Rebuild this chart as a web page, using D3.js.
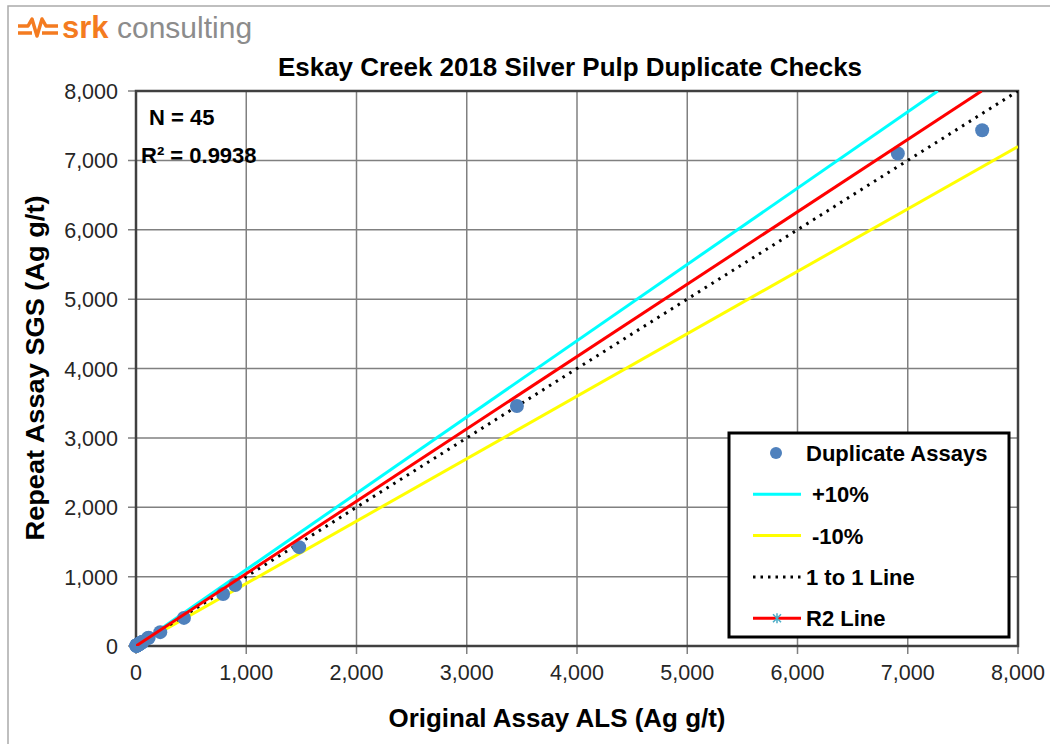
<!DOCTYPE html>
<html>
<head>
<meta charset="utf-8">
<script src="https://cdn.jsdelivr.net/npm/d3@7"></script>
<style>
  body { margin: 0; background: #fff; }
  text { font-family: Arial, "Liberation Sans", sans-serif; }
</style>
</head>
<body>
<script>
// duplicate assay pairs [original ALS, repeat SGS] in Ag g/t (45 pairs)
let dupOriginal = [2, 3, 4, 5, 5, 6, 7, 8, 9, 10, 10, 11, 12, 13, 14, 15, 16, 18, 20, 22,
    24, 25, 27, 30, 32, 35, 38, 40, 42, 45, 48, 50, 55, 60, 30, 105, 115, 220, 435, 790, 900,
    1480, 3455, 6910, 7675];
let dupRepeat = [3, 4, 4, 6, 5, 7, 8, 9, 9, 11, 12, 12, 13, 14, 15, 17, 16, 19, 21, 23,
    25, 26, 28, 31, 33, 36, 37, 42, 43, 46, 47, 52, 56, 61, 29, 110, 118, 200, 405, 750, 880,
    1425, 3460, 7100, 7435];

// reference lines, as end points
let plus10 = [[0, 0], [7273, 8000]];
let minus10 = [[0, 0], [8000, 7200]];
let oneToOne = [[0, 0], [8000, 8000]];
let r2Line = [[0, 0], [7670, 8000]];

let xTicks = [0, 1000, 2000, 3000, 4000, 5000, 6000, 7000, 8000];
let yTicks = [0, 1000, 2000, 3000, 4000, 5000, 6000, 7000, 8000];

let legendItems = ["Duplicate Assays", "+10%", "-10%", "1 to 1 Line", "R2 Line"];

let svg = d3.select("body").append("svg")
    .attr("width", 1050)
    .attr("height", 744);

// outer frame of the picture
svg.append("path")
    .attr("d", "M8,744 L8,6 L1050,6")
    .attr("fill", "none")
    .attr("stroke", "#aaa")
    .attr("stroke-width", 1.5);

// srk logo
let logo = svg.append("g").attr("transform", "translate(18,28)");
logo.append("path")
    .attr("d", "M0,-2 L10,-2 L14,-9 L19,8 L24,-9 L28,-2 L40,-2")
    .attr("fill", "none").attr("stroke", "#f47b20").attr("stroke-width", 3.5)
    .attr("stroke-linejoin", "round");
logo.append("path")
    .attr("d", "M0,5 L14,5 M24,5 L40,5")
    .attr("fill", "none").attr("stroke", "#f47b20").attr("stroke-width", 3.5);
logo.append("text")
    .attr("x", 44).attr("y", 10)
    .style("font-size", "31px").style("font-weight", "bold")
    .attr("fill", "#f47b20")
    .text("srk");
logo.append("text")
    .attr("x", 99).attr("y", 10)
    .style("font-size", "30px")
    .attr("fill", "#8c8c8c")
    .text("consulting");

let plotLeft = 136, plotRight = 1018, plotTop = 91, plotBottom = 646;

let x = d3.scaleLinear().domain([0, 8000]).range([plotLeft, plotRight]);
let y = d3.scaleLinear().domain([0, 8000]).range([plotBottom, plotTop]);

// grid
svg.append("g").selectAll("line")
    .data(xTicks)
    .enter().append("line")
    .attr("x1", d => x(d)).attr("x2", d => x(d))
    .attr("y1", plotTop).attr("y2", plotBottom + 8)
    .attr("stroke", "#808080").attr("stroke-width", 1.5);
svg.append("g").selectAll("line")
    .data(yTicks)
    .enter().append("line")
    .attr("x1", plotLeft - 8).attr("x2", plotRight)
    .attr("y1", d => y(d)).attr("y2", d => y(d))
    .attr("stroke", "#808080").attr("stroke-width", 1.5);

svg.append("rect")
    .attr("x", plotLeft).attr("y", plotTop)
    .attr("width", plotRight - plotLeft).attr("height", plotBottom - plotTop)
    .attr("fill", "none").attr("stroke", "#404040").attr("stroke-width", 2.5);

// tick labels
svg.append("g").selectAll("text")
    .data(xTicks)
    .enter().append("text")
    .attr("x", d => x(d)).attr("y", 680)
    .attr("text-anchor", "middle")
    .style("font-size", "21.5px")
    .attr("fill", "#262626")
    .text(d => d3.format(",")(d));
svg.append("g").selectAll("text")
    .data(yTicks)
    .enter().append("text")
    .attr("x", 118).attr("y", d => y(d) + 8)
    .attr("text-anchor", "end")
    .style("font-size", "21.5px")
    .attr("fill", "#262626")
    .text(d => d3.format(",")(d));

// clip for reference lines
svg.append("clipPath").attr("id", "plotClip")
    .append("rect")
    .attr("x", plotLeft).attr("y", plotTop)
    .attr("width", plotRight - plotLeft).attr("height", plotBottom - plotTop);

let line = d3.line().x(d => x(d[0])).y(d => y(d[1]));
let lines = svg.append("g").attr("clip-path", "url(#plotClip)");

lines.append("path").datum(minus10)
    .attr("d", line).attr("fill", "none")
    .attr("stroke", "#ffff00").attr("stroke-width", 3);
lines.append("path").datum(plus10)
    .attr("d", line).attr("fill", "none")
    .attr("stroke", "#00ffff").attr("stroke-width", 3);
lines.append("path").datum(oneToOne)
    .attr("d", line).attr("fill", "none")
    .attr("stroke", "#000").attr("stroke-width", 3)
    .attr("stroke-dasharray", "2.5,5.5");

// points
svg.append("g").selectAll("circle")
    .data(dupOriginal.map((v, i) => [v, dupRepeat[i]]))
    .enter().append("circle")
    .attr("cx", d => x(d[0])).attr("cy", d => y(d[1]))
    .attr("r", 7)
    .attr("fill", "#4f81bd");

svg.append("path").datum(r2Line)
    .attr("d", line).attr("fill", "none")
    .attr("clip-path", "url(#plotClip)")
    .attr("stroke", "#ff0000").attr("stroke-width", 3);

// stats
svg.append("text").attr("x", 149).attr("y", 125)
    .style("font-size", "22px").style("font-weight", "bold")
    .text("N = 45");
svg.append("text").attr("x", 141).attr("y", 163)
    .style("font-size", "22px").style("font-weight", "bold")
    .text("R² = 0.9938");

// title
svg.append("text")
    .attr("x", 570).attr("y", 76)
    .attr("text-anchor", "middle")
    .attr("textLength", 584).attr("lengthAdjust", "spacingAndGlyphs")
    .style("font-size", "25px").style("font-weight", "bold")
    .text("Eskay Creek 2018 Silver Pulp Duplicate Checks");

// axis titles
svg.append("text")
    .attr("x", 557).attr("y", 727)
    .attr("text-anchor", "middle")
    .attr("textLength", 337).attr("lengthAdjust", "spacingAndGlyphs")
    .style("font-size", "25px").style("font-weight", "bold")
    .text("Original Assay ALS (Ag g/t)");
svg.append("text")
    .attr("transform", "translate(44,368) rotate(-90)")
    .attr("text-anchor", "middle")
    .attr("textLength", 345).attr("lengthAdjust", "spacingAndGlyphs")
    .style("font-size", "25px").style("font-weight", "bold")
    .text("Repeat Assay  SGS (Ag g/t)");

// legend
let legend = svg.append("g");
legend.append("rect")
    .attr("x", 729).attr("y", 433)
    .attr("width", 280).attr("height", 204)
    .attr("fill", "#fff").attr("stroke", "#000").attr("stroke-width", 3);

let rows = legend.selectAll("g")
    .data(legendItems)
    .enter().append("g")
    .attr("transform", (d, i) => `translate(0,${453 + i * 41.3})`);

rows.append("text")
    .attr("x", (d, i) => i === 0 ? 806 : (i < 3 ? 812 : 806))
    .attr("y", 8)
    .style("font-size", "22px").style("font-weight", "bold")
    .text(d => d);

let key = [
    null,
    { c: "#00ffff", dash: null },
    { c: "#ffff00", dash: null },
    { c: "#000", dash: "2.5,5" },
    { c: "#ff0000", dash: null }
];
rows.each(function (d, i) {
    let g = d3.select(this);
    if (i === 0) {
        g.append("circle").attr("cx", 776).attr("cy", 0).attr("r", 6)
            .attr("fill", "#4f81bd");
        return;
    }
    g.append("line")
        .attr("x1", 753).attr("x2", 801).attr("y1", 0).attr("y2", 0)
        .attr("stroke", key[i].c).attr("stroke-width", 3)
        .attr("stroke-dasharray", key[i].dash);
    if (i === 4) {
        g.append("path")
            .attr("d", "M773,-4 L781,4 M773,4 L781,-4 M777,-5 L777,5")
            .attr("stroke", "#4bacc6").attr("stroke-width", 1.5);
    }
});
</script>
</body>
</html>
